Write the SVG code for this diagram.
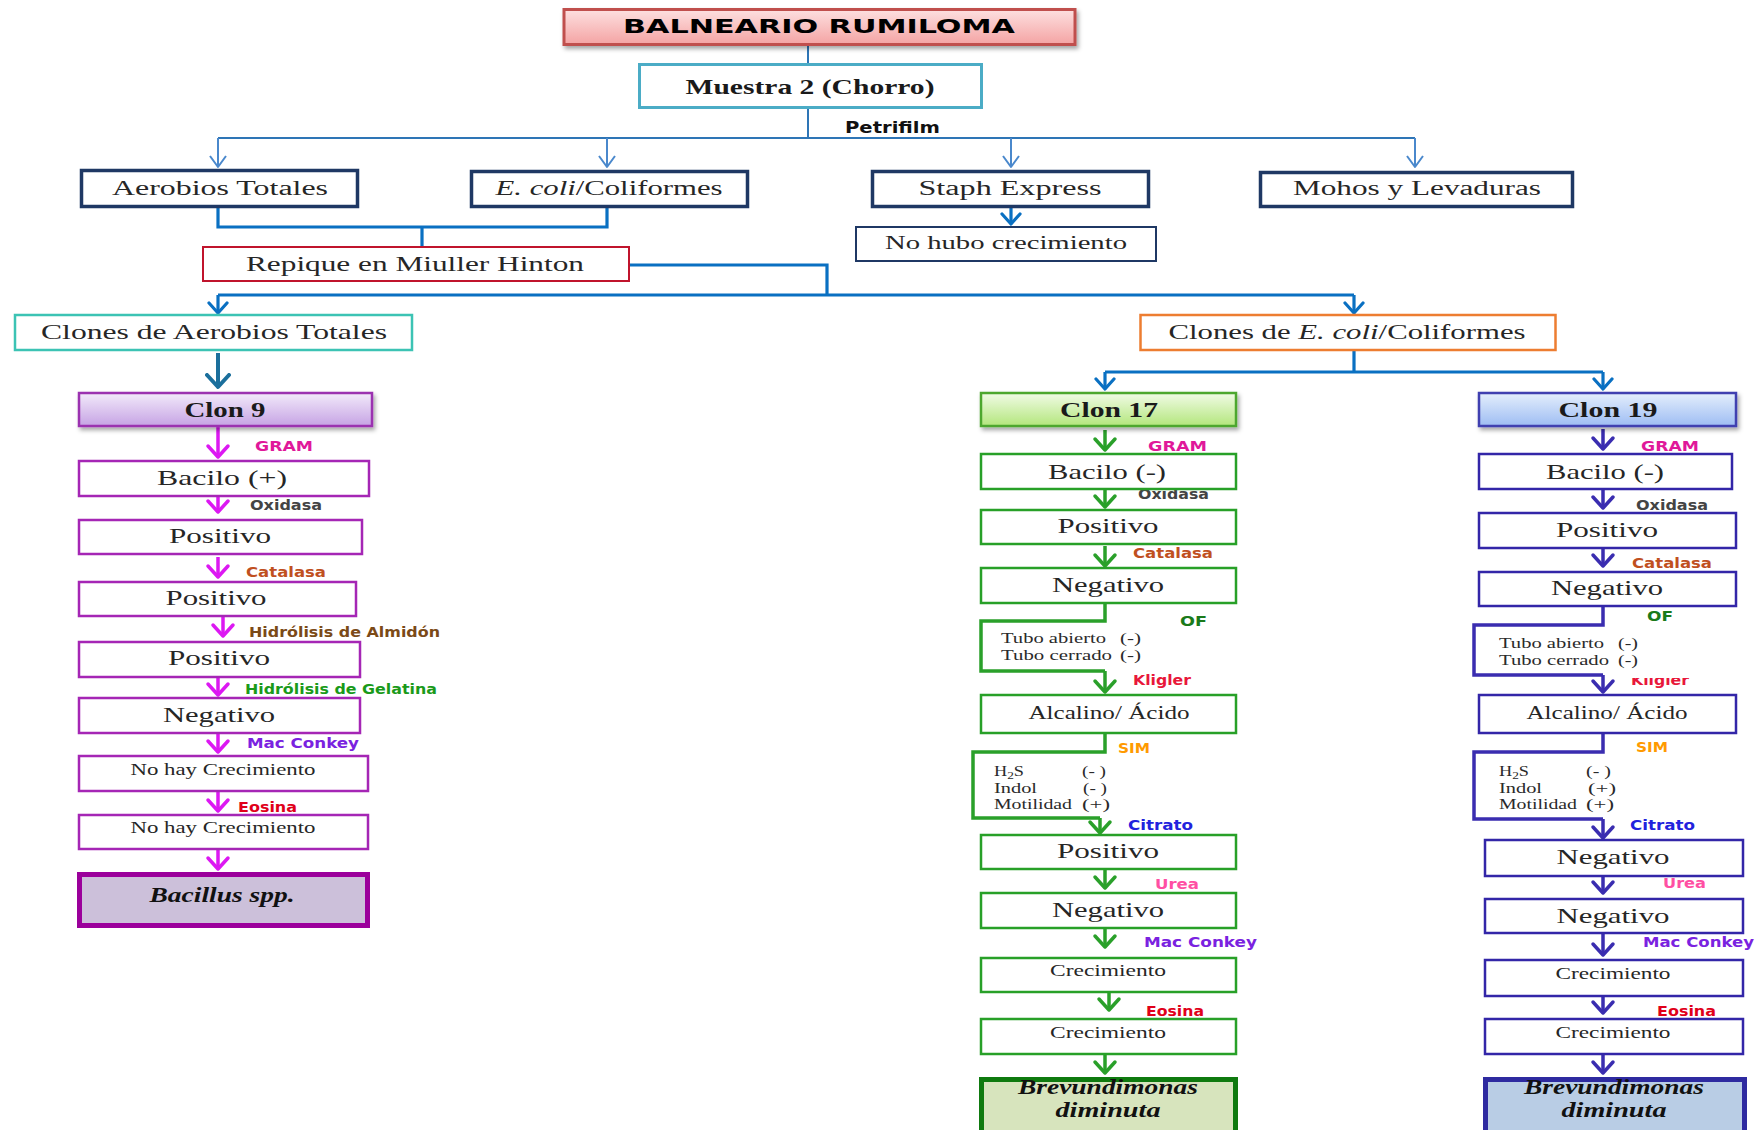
<svg xmlns="http://www.w3.org/2000/svg" width="1764" height="1130" viewBox="0 0 1764 1130">
  <style>
    .n { font-family: "Liberation Serif", "DejaVu Serif", serif; fill: #262626; }
    .nb { font-family: "Liberation Serif", "DejaVu Serif", serif; fill: #1a1a1a; font-weight: bold; }
    .sp { font-family: "Liberation Serif", "DejaVu Serif", serif; fill: #111; font-weight: bold; font-style: italic; }
    .lab { font-family: "DejaVu Sans", "Liberation Sans", sans-serif; font-weight: bold; font-size: 14px; }
    .small { font-family: "Liberation Serif", "DejaVu Serif", serif; fill: #2a2a2a; font-size: 15px; }
    .top { fill: #fff; stroke: #1f3864; stroke-width: 3.5; }
    .b9 { fill: #fff; stroke: #a526b5; stroke-width: 2.5; }
    .b17 { fill: #fff; stroke: #28a028; stroke-width: 2.5; }
    .b19 { fill: #fff; stroke: #3326a8; stroke-width: 2.5; }
    .c9 { fill: none; stroke: #dc18f2; stroke-width: 3.5; }
    .c17 { fill: none; stroke: #2aa02a; stroke-width: 3.5; }
    .c19 { fill: none; stroke: #3a2db0; stroke-width: 3.5; }
    .cblue { fill: none; stroke: #0a70c2; stroke-width: 3.2; }
    .cthin { fill: none; stroke: #4a88cc; stroke-width: 2; }
  </style>
  <defs>
    <filter id="sh" x="-10%" y="-30%" width="120%" height="170%">
      <feDropShadow dx="2" dy="3" stdDeviation="2" flood-color="#000" flood-opacity="0.35"/>
    </filter>
    <linearGradient id="gTitle" x1="0" y1="0" x2="0" y2="1">
      <stop offset="0" stop-color="#fde0e0"/>
      <stop offset="1" stop-color="#f4a3a3"/>
    </linearGradient>
    <linearGradient id="g9" x1="0" y1="0" x2="0" y2="1">
      <stop offset="0" stop-color="#f2eafa"/>
      <stop offset="1" stop-color="#c6a3e4"/>
    </linearGradient>
    <linearGradient id="g17" x1="0" y1="0" x2="0" y2="1">
      <stop offset="0" stop-color="#f1fbe6"/>
      <stop offset="1" stop-color="#b3e67c"/>
    </linearGradient>
    <linearGradient id="g19" x1="0" y1="0" x2="0" y2="1">
      <stop offset="0" stop-color="#e4eefc"/>
      <stop offset="1" stop-color="#9ebdf3"/>
    </linearGradient>
    <marker id="aThin" markerUnits="userSpaceOnUse" viewBox="-12 -10 14 20" markerWidth="14" markerHeight="20" refX="0" refY="0" orient="auto">
      <path d="M-11,-8 L0,0 L-11,8" fill="none" stroke="#4a88cc" stroke-width="2" stroke-linejoin="round"/>
    </marker>
    <marker id="aBlue" markerUnits="userSpaceOnUse" viewBox="-13 -11 16 22" markerWidth="16" markerHeight="22" refX="0" refY="0" orient="auto">
      <path d="M-10,-9 L0,0 L-10,9" fill="none" stroke="#0a70c2" stroke-width="3.2" stroke-linejoin="round" stroke-linecap="round"/>
    </marker>
    <marker id="aTeal" markerUnits="userSpaceOnUse" viewBox="-14 -13 17 26" markerWidth="17" markerHeight="26" refX="0" refY="0" orient="auto">
      <path d="M-12,-11 L0,0 L-12,11" fill="none" stroke="#1b6f9c" stroke-width="4" stroke-linejoin="round" stroke-linecap="round"/>
    </marker>
    <marker id="a9" markerUnits="userSpaceOnUse" viewBox="-14 -13 17 26" markerWidth="17" markerHeight="26" refX="0" refY="0" orient="auto">
      <path d="M-11,-10 L0,0 L-11,10" fill="none" stroke="#dc18f2" stroke-width="3.5" stroke-linejoin="round" stroke-linecap="round"/>
    </marker>
    <marker id="a17" markerUnits="userSpaceOnUse" viewBox="-14 -13 17 26" markerWidth="17" markerHeight="26" refX="0" refY="0" orient="auto">
      <path d="M-11,-10 L0,0 L-11,10" fill="none" stroke="#2aa02a" stroke-width="3.5" stroke-linejoin="round" stroke-linecap="round"/>
    </marker>
    <marker id="a19" markerUnits="userSpaceOnUse" viewBox="-14 -13 17 26" markerWidth="17" markerHeight="26" refX="0" refY="0" orient="auto">
      <path d="M-11,-10 L0,0 L-11,10" fill="none" stroke="#3a2db0" stroke-width="3.5" stroke-linejoin="round" stroke-linecap="round"/>
    </marker>
    <clipPath id="kligCut">
      <rect x="1620" y="678" width="110" height="20"/>
    </clipPath>
  </defs>

  <rect width="1764" height="1130" fill="#fff"/>

  <!-- connectors -->
  <g id="connectors">
    <!-- header and Petrifilm split -->
    <path d="M808,45 V64 M808,109 V138 M218,138 H1415" fill="none" stroke="#2e75b6" stroke-width="2"/>
    <path class="cthin" d="M218,138 V167" marker-end="url(#aThin)"/>
    <path class="cthin" d="M607,138 V167" marker-end="url(#aThin)"/>
    <path class="cthin" d="M1011,138 V167" marker-end="url(#aThin)"/>
    <path class="cthin" d="M1415,138 V167" marker-end="url(#aThin)"/>
    <!-- Staph Express result -->
    <path class="cblue" d="M1011,208 V224" marker-end="url(#aBlue)"/>
    <!-- join to Repique -->
    <path class="cblue" d="M218,208 V227 H607 V208 M422,227 V246"/>
    <path class="cblue" d="M630,265 H827 V295 M218,295 H1354"/>
    <path class="cblue" d="M218,295 V313" marker-end="url(#aBlue)"/>
    <path class="cblue" d="M1354,295 V313" marker-end="url(#aBlue)"/>
    <!-- clone groups -->
    <path d="M218,353 V387" fill="none" stroke="#1b6f9c" stroke-width="4" marker-end="url(#aTeal)"/>
    <path class="cblue" d="M1354,351 V372 M1105,372 H1603"/>
    <path class="cblue" d="M1105,372 V389" marker-end="url(#aBlue)"/>
    <path class="cblue" d="M1603,372 V389" marker-end="url(#aBlue)"/>

    <!-- Clon 9 chain -->
    <path class="c9" d="M218,427 V457" marker-end="url(#a9)"/>
    <path class="c9" d="M218,497 V512" marker-end="url(#a9)"/>
    <path class="c9" d="M218,557 V577" marker-end="url(#a9)"/>
    <path class="c9" d="M223,617 V636" marker-end="url(#a9)"/>
    <path class="c9" d="M218,677 V695" marker-end="url(#a9)"/>
    <path class="c9" d="M218,733 V752" marker-end="url(#a9)"/>
    <path class="c9" d="M218,791 V811" marker-end="url(#a9)"/>
    <path class="c9" d="M218,849 V869" marker-end="url(#a9)"/>

    <!-- Clon 17 chain -->
    <path class="c17" d="M1105,430 V450" marker-end="url(#a17)"/>
    <path class="c17" d="M1105,489 V507" marker-end="url(#a17)"/>
    <path class="c17" d="M1105,546 V566" marker-end="url(#a17)"/>
    <path class="c17" d="M1105,603 V621 H981 V671 H1105"/>
    <path class="c17" d="M1105,671 V692" marker-end="url(#a17)"/>
    <path class="c17" d="M1105,733 V752 H973 V818 H1100"/>
    <path class="c17" d="M1100,818 V833" marker-end="url(#a17)"/>
    <path class="c17" d="M1105,869 V888" marker-end="url(#a17)"/>
    <path class="c17" d="M1105,928 V947" marker-end="url(#a17)"/>
    <path class="c17" d="M1109,992 V1010" marker-end="url(#a17)"/>
    <path class="c17" d="M1105,1054 V1073" marker-end="url(#a17)"/>

    <!-- Clon 19 chain -->
    <path class="c19" d="M1603,429 V449" marker-end="url(#a19)"/>
    <path class="c19" d="M1603,489 V508" marker-end="url(#a19)"/>
    <path class="c19" d="M1603,548 V566" marker-end="url(#a19)"/>
    <path class="c19" d="M1603,606 V625 H1474 V675 H1603"/>
    <path class="c19" d="M1603,675 V692" marker-end="url(#a19)"/>
    <path class="c19" d="M1603,733 V752 H1474 V819 H1603"/>
    <path class="c19" d="M1603,819 V838" marker-end="url(#a19)"/>
    <path class="c19" d="M1603,876 V893" marker-end="url(#a19)"/>
    <path class="c19" d="M1603,933 V955" marker-end="url(#a19)"/>
    <path class="c19" d="M1603,996 V1013" marker-end="url(#a19)"/>
    <path class="c19" d="M1603,1054 V1073" marker-end="url(#a19)"/>
  </g>

  <!-- test labels on the connectors -->
  <g id="test-labels" class="lab">
    <text x="845" y="133" font-size="16" fill="#111" textLength="95" lengthAdjust="spacingAndGlyphs">Petrifilm</text>

    <text x="255" y="451" fill="#e0189a" textLength="58" lengthAdjust="spacingAndGlyphs">GRAM</text>
    <text x="250" y="510" fill="#444" textLength="72" lengthAdjust="spacingAndGlyphs">Oxidasa</text>
    <text x="246" y="577" fill="#c0501f" textLength="80" lengthAdjust="spacingAndGlyphs">Catalasa</text>
    <text x="249" y="637" fill="#7b4a17" textLength="191" lengthAdjust="spacingAndGlyphs">Hidrólisis de Almidón</text>
    <text x="245" y="694" fill="#1a9a1a" textLength="192" lengthAdjust="spacingAndGlyphs">Hidrólisis de Gelatina</text>
    <text x="247" y="748" fill="#7a22e0" textLength="112" lengthAdjust="spacingAndGlyphs">Mac Conkey</text>
    <text x="238" y="812" fill="#e0001a" textLength="59" lengthAdjust="spacingAndGlyphs">Eosina</text>

    <text x="1148" y="451" fill="#e0189a" textLength="59" lengthAdjust="spacingAndGlyphs">GRAM</text>
    <text x="1138" y="499" fill="#444" textLength="71" lengthAdjust="spacingAndGlyphs">Oxidasa</text>
    <text x="1133" y="558" fill="#c0501f" textLength="80" lengthAdjust="spacingAndGlyphs">Catalasa</text>
    <text x="1180" y="626" fill="#1a7a1a" textLength="27" lengthAdjust="spacingAndGlyphs">OF</text>
    <text x="1133" y="685" fill="#e8173a" textLength="58" lengthAdjust="spacingAndGlyphs">Kligler</text>
    <text x="1118" y="753" fill="#ff9a00" textLength="32" lengthAdjust="spacingAndGlyphs">SIM</text>
    <text x="1128" y="830" fill="#2222dd" textLength="65" lengthAdjust="spacingAndGlyphs">Citrato</text>
    <text x="1155" y="889" fill="#ff4fa3" textLength="44" lengthAdjust="spacingAndGlyphs">Urea</text>
    <text x="1144" y="947" fill="#7a22e0" textLength="113" lengthAdjust="spacingAndGlyphs">Mac Conkey</text>
    <text x="1146" y="1016" fill="#e0001a" textLength="58" lengthAdjust="spacingAndGlyphs">Eosina</text>

    <text x="1641" y="451" fill="#e0189a" textLength="58" lengthAdjust="spacingAndGlyphs">GRAM</text>
    <text x="1636" y="510" fill="#444" textLength="72" lengthAdjust="spacingAndGlyphs">Oxidasa</text>
    <text x="1632" y="568" fill="#c0501f" textLength="80" lengthAdjust="spacingAndGlyphs">Catalasa</text>
    <text x="1647" y="621" fill="#1a7a1a" textLength="26" lengthAdjust="spacingAndGlyphs">OF</text>
    <text x="1631" y="685" fill="#e8173a" textLength="58" lengthAdjust="spacingAndGlyphs" clip-path="url(#kligCut)">Kligler</text>
    <text x="1636" y="752" fill="#ff9a00" textLength="32" lengthAdjust="spacingAndGlyphs">SIM</text>
    <text x="1630" y="830" fill="#2222dd" textLength="65" lengthAdjust="spacingAndGlyphs">Citrato</text>
    <text x="1663" y="888" fill="#ff4fa3" textLength="43" lengthAdjust="spacingAndGlyphs">Urea</text>
    <text x="1643" y="947" fill="#7a22e0" textLength="111" lengthAdjust="spacingAndGlyphs">Mac Conkey</text>
    <text x="1657" y="1016" fill="#e0001a" textLength="59" lengthAdjust="spacingAndGlyphs">Eosina</text>
  </g>

  <!-- header nodes -->
  <g id="title">
    <rect x="564" y="9.5" width="511" height="35" fill="url(#gTitle)" stroke="#c0504d" stroke-width="3" filter="url(#sh)"/>
    <text x="819" y="33" text-anchor="middle" font-family="'DejaVu Sans', 'Liberation Sans', sans-serif" font-weight="bold" font-size="20" fill="#000" textLength="392" lengthAdjust="spacingAndGlyphs">BALNEARIO RUMILOMA</text>
  </g>
  <g id="muestra">
    <rect x="639.5" y="64.5" width="342" height="43" fill="#fff" stroke="#4bacc6" stroke-width="3"/>
    <text class="nb" x="810" y="94" text-anchor="middle" font-size="21" textLength="249" lengthAdjust="spacingAndGlyphs">Muestra 2 (Chorro)</text>
  </g>
  <g id="aerobios">
    <rect class="top" x="81.5" y="170.5" width="276" height="36"/>
    <text class="n" x="220" y="195" text-anchor="middle" font-size="20" textLength="216" lengthAdjust="spacingAndGlyphs">Aerobios Totales</text>
  </g>
  <g id="ecoli">
    <rect class="top" x="471.5" y="171.5" width="276" height="35"/>
    <text class="n" x="609" y="195" text-anchor="middle" font-size="20" textLength="227" lengthAdjust="spacingAndGlyphs"><tspan font-style="italic">E. coli</tspan>/Coliformes</text>
  </g>
  <g id="staph">
    <rect class="top" x="872.5" y="171.5" width="276" height="35"/>
    <text class="n" x="1010" y="195" text-anchor="middle" font-size="20" textLength="183" lengthAdjust="spacingAndGlyphs">Staph Express</text>
  </g>
  <g id="mohos">
    <rect class="top" x="1260.5" y="172.5" width="312" height="34"/>
    <text class="n" x="1417" y="195" text-anchor="middle" font-size="20" textLength="248" lengthAdjust="spacingAndGlyphs">Mohos y Levaduras</text>
  </g>
  <g id="no-hubo">
    <rect x="856" y="227" width="300" height="34" fill="#fff" stroke="#1f3864" stroke-width="2"/>
    <text class="n" x="1006" y="249" text-anchor="middle" font-size="19" textLength="242" lengthAdjust="spacingAndGlyphs">No hubo crecimiento</text>
  </g>
  <g id="repique">
    <rect x="203" y="247" width="426" height="34" fill="#fff" stroke="#c0142c" stroke-width="2"/>
    <text class="n" x="415" y="271" text-anchor="middle" font-size="20" textLength="338" lengthAdjust="spacingAndGlyphs">Repique en Miuller Hinton</text>
  </g>
  <g id="clones-aerobios">
    <rect x="15" y="315" width="397" height="35" fill="#fff" stroke="#3cc3b4" stroke-width="2.5"/>
    <text class="n" x="214" y="339" text-anchor="middle" font-size="21" textLength="346" lengthAdjust="spacingAndGlyphs">Clones de Aerobios Totales</text>
  </g>
  <g id="clones-ecoli">
    <rect x="1140.5" y="315" width="415" height="35" fill="#fff" stroke="#ed7d31" stroke-width="2.5"/>
    <text class="n" x="1347" y="339" text-anchor="middle" font-size="21" textLength="357" lengthAdjust="spacingAndGlyphs">Clones de <tspan font-style="italic">E. coli</tspan>/Coliformes</text>
  </g>

  <!-- Clon 9 -->
  <g id="clon9">
    <rect x="79" y="393" width="293" height="33" fill="url(#g9)" stroke="#9b30b0" stroke-width="2.5" filter="url(#sh)"/>
    <text class="nb" x="225" y="417" text-anchor="middle" font-size="21" textLength="81" lengthAdjust="spacingAndGlyphs">Clon 9</text>
  </g>
  <g id="c9-bacilo">
    <rect class="b9" x="79" y="461" width="290" height="35"/>
    <text class="n" x="222" y="485" text-anchor="middle" font-size="21" textLength="130" lengthAdjust="spacingAndGlyphs">Bacilo (+)</text>
  </g>
  <g id="c9-oxidasa">
    <rect class="b9" x="79" y="520" width="283" height="34"/>
    <text class="n" x="220" y="543" text-anchor="middle" font-size="21" textLength="102" lengthAdjust="spacingAndGlyphs">Positivo</text>
  </g>
  <g id="c9-catalasa">
    <rect class="b9" x="79" y="582" width="277" height="34"/>
    <text class="n" x="216" y="605" text-anchor="middle" font-size="21" textLength="101" lengthAdjust="spacingAndGlyphs">Positivo</text>
  </g>
  <g id="c9-almidon">
    <rect class="b9" x="79" y="642" width="281" height="35"/>
    <text class="n" x="219" y="665" text-anchor="middle" font-size="21" textLength="102" lengthAdjust="spacingAndGlyphs">Positivo</text>
  </g>
  <g id="c9-gelatina">
    <rect class="b9" x="79" y="698" width="281" height="35"/>
    <text class="n" x="219" y="722" text-anchor="middle" font-size="21" textLength="112" lengthAdjust="spacingAndGlyphs">Negativo</text>
  </g>
  <g id="c9-macconkey">
    <rect class="b9" x="79" y="756" width="289" height="35"/>
    <text class="n" x="223" y="775" text-anchor="middle" font-size="17" textLength="185" lengthAdjust="spacingAndGlyphs">No hay Crecimiento</text>
  </g>
  <g id="c9-eosina">
    <rect class="b9" x="79" y="815" width="289" height="34"/>
    <text class="n" x="223" y="833" text-anchor="middle" font-size="17" textLength="185" lengthAdjust="spacingAndGlyphs">No hay Crecimiento</text>
  </g>
  <g id="c9-result">
    <rect x="79.5" y="874.5" width="288" height="51" fill="#ccc0da" stroke="#9b009b" stroke-width="5"/>
    <text class="sp" x="222" y="902" text-anchor="middle" font-size="20" textLength="145" lengthAdjust="spacingAndGlyphs">Bacillus spp.</text>
  </g>

  <!-- Clon 17 -->
  <g id="clon17">
    <rect x="981" y="393" width="255" height="33" fill="url(#g17)" stroke="#4ea72e" stroke-width="2.5" filter="url(#sh)"/>
    <text class="nb" x="1109" y="417" text-anchor="middle" font-size="21" textLength="98" lengthAdjust="spacingAndGlyphs">Clon 17</text>
  </g>
  <g id="c17-gram">
    <rect class="b17" x="981" y="454" width="255" height="35"/>
    <text class="n" x="1107" y="479" text-anchor="middle" font-size="21" textLength="118" lengthAdjust="spacingAndGlyphs">Bacilo (-)</text>
  </g>
  <g id="c17-oxidasa">
    <rect class="b17" x="981" y="510" width="255" height="34"/>
    <text class="n" x="1108" y="533" text-anchor="middle" font-size="21" textLength="101" lengthAdjust="spacingAndGlyphs">Positivo</text>
  </g>
  <g id="c17-catalasa">
    <rect class="b17" x="981" y="568" width="255" height="35"/>
    <text class="n" x="1108" y="592" text-anchor="middle" font-size="21" textLength="112" lengthAdjust="spacingAndGlyphs">Negativo</text>
  </g>
  <g id="c17-of" class="small">
    <text x="1001" y="643" textLength="105" lengthAdjust="spacingAndGlyphs">Tubo abierto</text>
    <text x="1120" y="643" textLength="21" lengthAdjust="spacingAndGlyphs">(-)</text>
    <text x="1001" y="660" textLength="111" lengthAdjust="spacingAndGlyphs">Tubo cerrado</text>
    <text x="1120" y="660" textLength="21" lengthAdjust="spacingAndGlyphs">(-)</text>
  </g>
  <g id="c17-kligler">
    <rect class="b17" x="981" y="695" width="255" height="38"/>
    <text class="n" x="1109" y="719" text-anchor="middle" font-size="18" textLength="161" lengthAdjust="spacingAndGlyphs">Alcalino/ Ácido</text>
  </g>
  <g id="c17-sim" class="small">
    <text x="994" y="776" textLength="30" lengthAdjust="spacingAndGlyphs">H<tspan font-size="11" dy="3">2</tspan><tspan dy="-3">S</tspan></text>
    <text x="1082" y="776" textLength="24" lengthAdjust="spacingAndGlyphs">(- )</text>
    <text x="994" y="793" textLength="43" lengthAdjust="spacingAndGlyphs">Indol</text>
    <text x="1083" y="793" textLength="24" lengthAdjust="spacingAndGlyphs">(- )</text>
    <text x="994" y="809" textLength="78" lengthAdjust="spacingAndGlyphs">Motilidad</text>
    <text x="1082" y="809" textLength="28" lengthAdjust="spacingAndGlyphs">(+)</text>
  </g>
  <g id="c17-citrato">
    <rect class="b17" x="981" y="835" width="255" height="34"/>
    <text class="n" x="1108" y="858" text-anchor="middle" font-size="21" textLength="102" lengthAdjust="spacingAndGlyphs">Positivo</text>
  </g>
  <g id="c17-urea">
    <rect class="b17" x="981" y="893" width="255" height="35"/>
    <text class="n" x="1108" y="917" text-anchor="middle" font-size="21" textLength="112" lengthAdjust="spacingAndGlyphs">Negativo</text>
  </g>
  <g id="c17-macconkey">
    <rect class="b17" x="981" y="958" width="255" height="34"/>
    <text class="n" x="1108" y="976" text-anchor="middle" font-size="17" textLength="116" lengthAdjust="spacingAndGlyphs">Crecimiento</text>
  </g>
  <g id="c17-eosina">
    <rect class="b17" x="981" y="1019" width="255" height="35"/>
    <text class="n" x="1108" y="1038" text-anchor="middle" font-size="17" textLength="116" lengthAdjust="spacingAndGlyphs">Crecimiento</text>
  </g>
  <g id="c17-result">
    <rect x="981.5" y="1079.5" width="254" height="80" fill="#d7e4bd" stroke="#0f7a0f" stroke-width="5"/>
    <text class="sp" x="1108" y="1094" text-anchor="middle" font-size="20" textLength="180" lengthAdjust="spacingAndGlyphs">Brevundimonas</text>
    <text class="sp" x="1108" y="1117" text-anchor="middle" font-size="20" textLength="105" lengthAdjust="spacingAndGlyphs">diminuta</text>
  </g>

  <!-- Clon 19 -->
  <g id="clon19">
    <rect x="1479" y="393" width="257" height="33" fill="url(#g19)" stroke="#3f3fb0" stroke-width="2.5" filter="url(#sh)"/>
    <text class="nb" x="1608" y="417" text-anchor="middle" font-size="21" textLength="99" lengthAdjust="spacingAndGlyphs">Clon 19</text>
  </g>
  <g id="c19-gram">
    <rect class="b19" x="1479" y="454" width="253" height="35"/>
    <text class="n" x="1605" y="479" text-anchor="middle" font-size="21" textLength="118" lengthAdjust="spacingAndGlyphs">Bacilo (-)</text>
  </g>
  <g id="c19-oxidasa">
    <rect class="b19" x="1479" y="513" width="257" height="35"/>
    <text class="n" x="1607" y="537" text-anchor="middle" font-size="21" textLength="102" lengthAdjust="spacingAndGlyphs">Positivo</text>
  </g>
  <g id="c19-catalasa">
    <rect class="b19" x="1479" y="572" width="257" height="34"/>
    <text class="n" x="1607" y="595" text-anchor="middle" font-size="21" textLength="112" lengthAdjust="spacingAndGlyphs">Negativo</text>
  </g>
  <g id="c19-of" class="small">
    <text x="1499" y="648" textLength="105" lengthAdjust="spacingAndGlyphs">Tubo abierto</text>
    <text x="1618" y="648" textLength="20" lengthAdjust="spacingAndGlyphs">(-)</text>
    <text x="1499" y="665" textLength="110" lengthAdjust="spacingAndGlyphs">Tubo cerrado</text>
    <text x="1618" y="665" textLength="20" lengthAdjust="spacingAndGlyphs">(-)</text>
  </g>
  <g id="c19-kligler">
    <rect class="b19" x="1479" y="695" width="257" height="38"/>
    <text class="n" x="1607" y="719" text-anchor="middle" font-size="18" textLength="161" lengthAdjust="spacingAndGlyphs">Alcalino/ Ácido</text>
  </g>
  <g id="c19-sim" class="small">
    <text x="1499" y="776" textLength="30" lengthAdjust="spacingAndGlyphs">H<tspan font-size="11" dy="3">2</tspan><tspan dy="-3">S</tspan></text>
    <text x="1586" y="776" textLength="25" lengthAdjust="spacingAndGlyphs">(- )</text>
    <text x="1499" y="793" textLength="43" lengthAdjust="spacingAndGlyphs">Indol</text>
    <text x="1588" y="793" textLength="28" lengthAdjust="spacingAndGlyphs">(+)</text>
    <text x="1499" y="809" textLength="78" lengthAdjust="spacingAndGlyphs">Motilidad</text>
    <text x="1586" y="809" textLength="28" lengthAdjust="spacingAndGlyphs">(+)</text>
  </g>
  <g id="c19-citrato">
    <rect class="b19" x="1485" y="840" width="258" height="36"/>
    <text class="n" x="1613" y="864" text-anchor="middle" font-size="21" textLength="113" lengthAdjust="spacingAndGlyphs">Negativo</text>
  </g>
  <g id="c19-urea">
    <rect class="b19" x="1485" y="899" width="258" height="34"/>
    <text class="n" x="1613" y="923" text-anchor="middle" font-size="21" textLength="113" lengthAdjust="spacingAndGlyphs">Negativo</text>
  </g>
  <g id="c19-macconkey">
    <rect class="b19" x="1485" y="960" width="258" height="36"/>
    <text class="n" x="1613" y="979" text-anchor="middle" font-size="17" textLength="115" lengthAdjust="spacingAndGlyphs">Crecimiento</text>
  </g>
  <g id="c19-eosina">
    <rect class="b19" x="1485" y="1019" width="258" height="35"/>
    <text class="n" x="1613" y="1038" text-anchor="middle" font-size="17" textLength="115" lengthAdjust="spacingAndGlyphs">Crecimiento</text>
  </g>
  <g id="c19-result">
    <rect x="1485.5" y="1079.5" width="259" height="80" fill="#b9cde5" stroke="#2e2aa0" stroke-width="5"/>
    <text class="sp" x="1614" y="1094" text-anchor="middle" font-size="20" textLength="180" lengthAdjust="spacingAndGlyphs">Brevundimonas</text>
    <text class="sp" x="1614" y="1117" text-anchor="middle" font-size="20" textLength="105" lengthAdjust="spacingAndGlyphs">diminuta</text>
  </g>
</svg>
